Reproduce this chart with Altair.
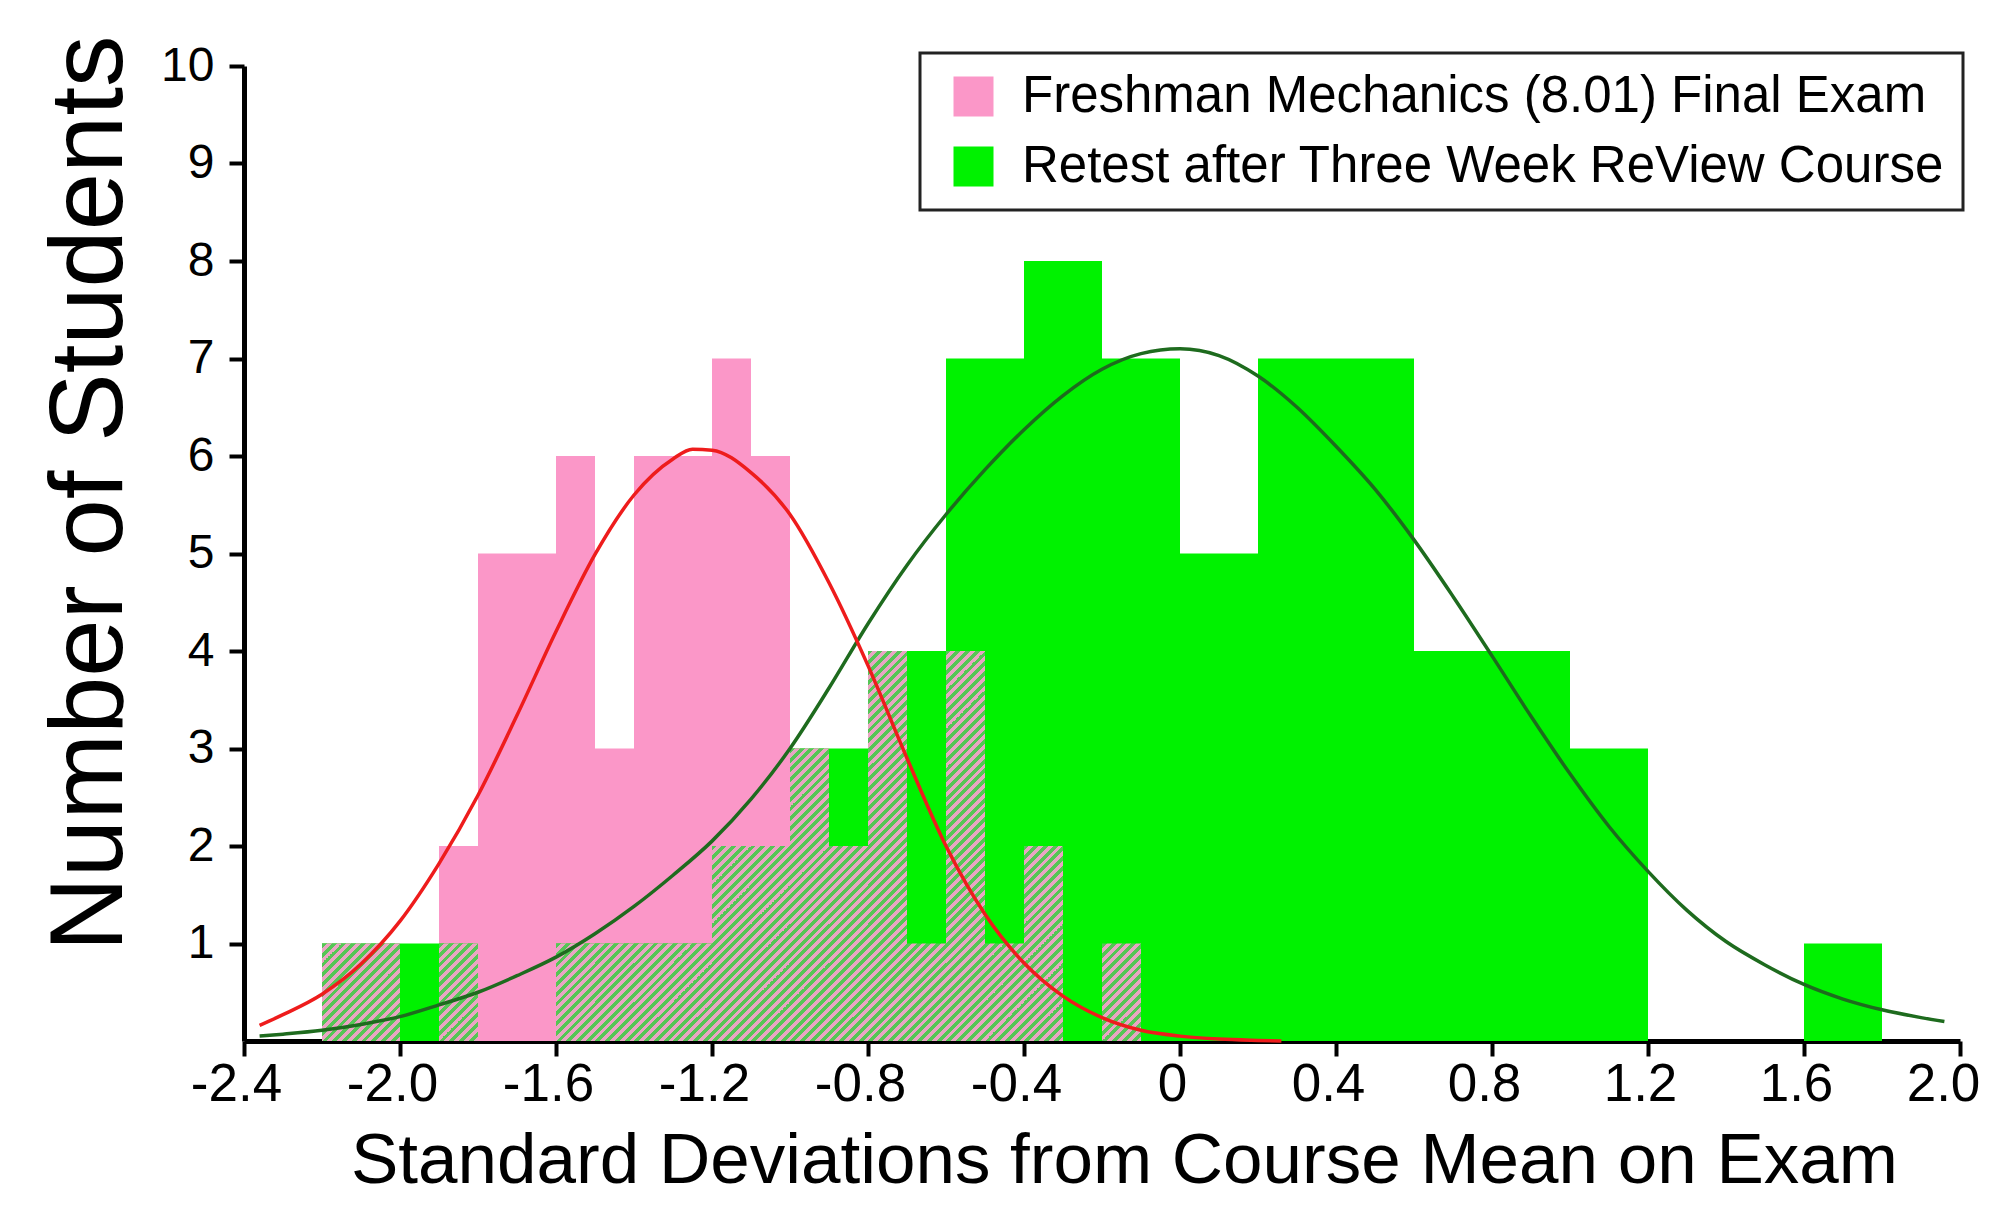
import altair as alt
import pandas as pd

# ---------------- data ----------------
BIN_LEFT = [-2.2, -2.1, -2.0, -1.9, -1.8, -1.7, -1.6, -1.5, -1.4, -1.3,
            -1.2, -1.1, -1.0, -0.9, -0.8, -0.7, -0.6, -0.5, -0.4, -0.3,
            -0.2, -0.1, 0.0, 0.1, 0.2, 0.3, 0.4, 0.5, 0.6, 0.7,
            0.8, 0.9, 1.0, 1.1, 1.2, 1.3, 1.4, 1.5, 1.6, 1.7]
BIN_WIDTH = 0.1
PINK_COUNTS = [1, 1, 0, 2, 5, 5, 6, 3, 6, 6,
               7, 6, 3, 2, 4, 1, 4, 1, 2, 0,
               1, 0, 0, 0, 0, 0, 0, 0, 0, 0,
               0, 0, 0, 0, 0, 0, 0, 0, 0, 0]
GREEN_COUNTS = [1, 1, 1, 1, 0, 0, 1, 1, 1, 1,
                2, 2, 3, 3, 4, 4, 7, 7, 8, 8,
                7, 7, 5, 5, 7, 7, 7, 7, 4, 4,
                4, 4, 3, 3, 0, 0, 0, 0, 1, 1]
SERIES = ["Freshman Mechanics (8.01) Final Exam",
          "Retest after Three Week ReView Course"]

RED_X = [-2.36, -2.3, -2.2, -2.1, -2.0, -1.9, -1.8, -1.7, -1.6, -1.5, -1.4,
         -1.3, -1.25, -1.2, -1.1, -1.0, -0.9, -0.8, -0.7, -0.6, -0.5, -0.4,
         -0.3, -0.2, -0.1, 0.0, 0.1, 0.2, 0.26]
RED_Y = [0.16, 0.27, 0.48, 0.79, 1.23, 1.82, 2.52, 3.34, 4.2, 4.99, 5.6,
         5.97, 6.07, 6.06, 5.83, 5.4, 4.7, 3.85, 2.9, 2.0, 1.3, 0.8,
         0.46, 0.24, 0.11, 0.05, 0.02, 0.006, 0.0]

DKG_X = [-2.36, -2.3, -2.2, -2.1, -2.0, -1.9, -1.8, -1.7, -1.6, -1.5, -1.4,
         -1.3, -1.2, -1.1, -1.0, -0.9, -0.8, -0.7, -0.6, -0.5, -0.4, -0.3,
         -0.2, -0.1, 0.0, 0.1, 0.2, 0.3, 0.4, 0.5, 0.6, 0.7, 0.8, 0.9,
         1.0, 1.1, 1.2, 1.3, 1.4, 1.5, 1.6, 1.7, 1.8, 1.9, 1.96]
DKG_Y = [0.05, 0.07, 0.11, 0.17, 0.25, 0.37, 0.5, 0.67, 0.86, 1.1, 1.38,
         1.7, 2.05, 2.48, 3.0, 3.62, 4.28, 4.88, 5.4, 5.86, 6.27, 6.62,
         6.89, 7.05, 7.1, 7.03, 6.82, 6.5, 6.1, 5.66, 5.14, 4.56, 3.95, 3.33,
         2.74, 2.2, 1.74, 1.34, 1.02, 0.78, 0.58, 0.43, 0.32, 0.24, 0.2]

X_TICKS = [-2.4, -2.0, -1.6, -1.2, -0.8, -0.4, 0.0, 0.4, 0.8, 1.2, 1.6, 2.0]
Y_TICKS = [1, 2, 3, 4, 5, 6, 7, 8, 9, 10]

# ---------------- styles ----------------
PINK = "#fb97c8"
GREEN = "#00f200"
HATCH_GREEN = "#55c655"
HATCH_PINK = "#e9a5c3"
RED_LINE = "#ee1c1c"
DKG_LINE = "#1e6b1e"
FONT = "Liberation Sans"

W, H = 1716, 975

# ---------------- tables ----------------
rows = []
for s, counts in zip(SERIES, [PINK_COUNTS, GREEN_COUNTS]):
    for left, c in zip(BIN_LEFT, counts):
        if c > 0:
            rows.append({"series": s, "x0": left, "x1": round(left + BIN_WIDTH, 2),
                         "y0": 0, "count": c})
bars = pd.DataFrame(rows)

ov_rows = []
for left, p, g in zip(BIN_LEFT, PINK_COUNTS, GREEN_COUNTS):
    k = min(p, g)
    if k > 0:
        ov_rows.append({"x0": left, "x1": round(left + BIN_WIDTH, 2), "y0": 0, "ov": k})
ov = pd.DataFrame(ov_rows)

red = pd.DataFrame({"x": RED_X, "y": RED_Y})
dkg = pd.DataFrame({"x": DKG_X, "y": DKG_Y})

# ---------------- scales / axes ----------------
xs = alt.Scale(domain=[-2.4, 2.0], nice=False, zero=False)
ys = alt.Scale(domain=[0, 10], nice=False)

x_axis = alt.Axis(
    values=X_TICKS,
    labelExpr="datum.value == 0 ? '0' : (datum.value < 0 ? '-' : '') + format(abs(datum.value), '.1f')",
    title="Standard Deviations from Course Mean on Exam",
    titleX=880, titleY=141, titleBaseline="alphabetic", titleAlign="center",
    titleFontSize=71, labelFontSize=53, labelPadding=2, grid=False,
    labelFlush=False,
    labelOffset={"condition": {"test": "datum.value > 1.9", "value": -17}, "value": -8},
)
y_axis = alt.Axis(
    values=Y_TICKS, format="d",
    title="Number of Students",
    titleX=-123, titleY=427, titleBaseline="alphabetic", titleAlign="center",
    titleAngle=270, titleFontSize=103, labelFontSize=48, labelPadding=15, grid=False,
)


def X(field):
    return alt.X(field, type="quantitative", scale=xs, axis=x_axis)


def Y(field):
    return alt.Y(field, type="quantitative", scale=ys, axis=y_axis)


def hatch(k):
    r = 2.5 * k
    n = 4 * (1 + r * r)
    stops = []
    p = 0
    while p / n < 1 and p <= 4 * (1 + r) + 1:
        a, b, c = p / n, min((p + 0.5) / n, 1), min((p + 1) / n, 1)
        stops += [(a, HATCH_GREEN), (b, HATCH_GREEN), (b, HATCH_PINK), (c, HATCH_PINK)]
        p += 1
    return alt.LinearGradient(
        gradient="linear",
        stops=[alt.GradientStop(offset=o, color=col) for o, col in stops],
        x1=0, y1=0, x2=1, y2=r,
    )


bar_layer = alt.Chart(bars).mark_rect(strokeWidth=0).encode(
    x=X("x0"), x2="x1", y=Y("y0"), y2="count",
    color=alt.Color(
        "series:N",
        scale=alt.Scale(domain=SERIES, range=[PINK, GREEN]),
        legend=alt.Legend(
            title=None, orient="none", legendX=676, legendY=-13,
            symbolType="square", symbolSize=1600, symbolStrokeWidth=0,
            symbolOffset=10, labelFont=FONT, labelFontSize=51, labelOffset=23,
            labelLimit=3000, padding=18, rowPadding=18, strokeColor="#222222",
        ),
    ),
)

hatch_layers = []
for k in sorted(set(ov["ov"])):
    hatch_layers.append(
        alt.Chart(ov).transform_filter(f"datum.ov == {k}")
        .mark_rect(fill=hatch(k), strokeWidth=0)
        .encode(x=X("x0"), x2="x1", y=Y("y0"), y2="ov")
    )

red_layer = alt.Chart(red).mark_line(color=RED_LINE, strokeWidth=3.5, interpolate="monotone").encode(
    x=X("x"), y=Y("y"))
dkg_layer = alt.Chart(dkg).mark_line(color=DKG_LINE, strokeWidth=3.5, interpolate="monotone").encode(
    x=X("x"), y=Y("y"))

chart = alt.layer(bar_layer, *hatch_layers, dkg_layer, red_layer).properties(
    width=W, height=H, autosize="none",
    padding={"left": 236, "top": 58, "right": 25, "bottom": 158},
    background="white",
).configure_view(stroke=None).configure_axis(
    domainColor="black", domainWidth=5, tickColor="black", tickWidth=4, tickSize=15,
    labelColor="black", titleColor="black", labelFont=FONT, titleFont=FONT,
    titleFontWeight="normal",
).configure_legend(strokeWidth=3)

chart.save("out.html", embed_options={"renderer": "svg", "actions": False})
